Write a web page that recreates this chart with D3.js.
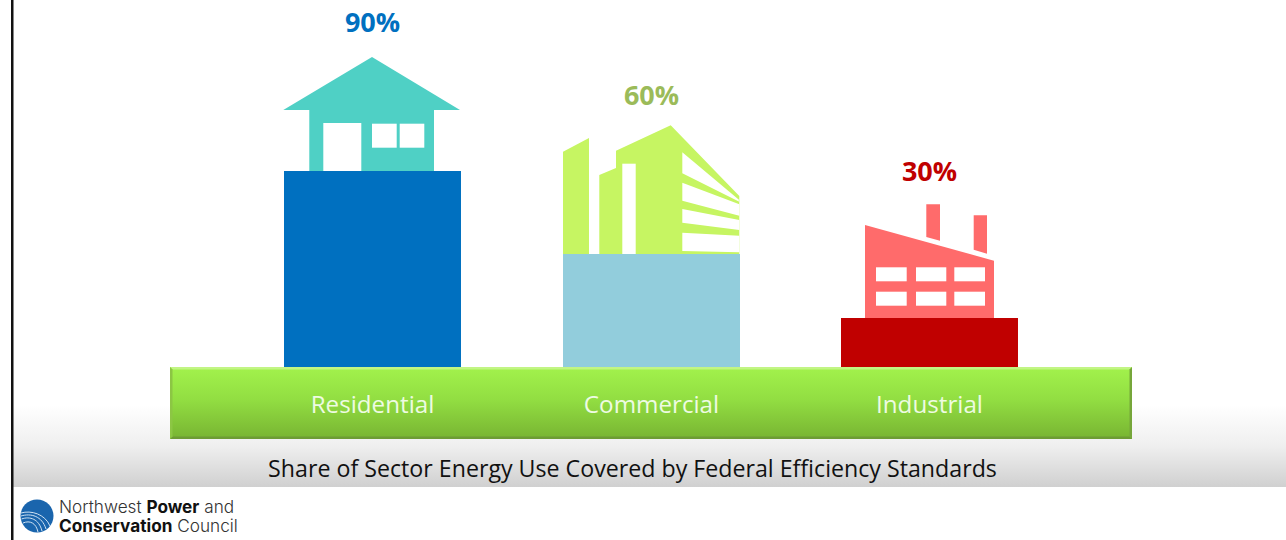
<!DOCTYPE html>
<html>
<head>
<meta charset="utf-8">
<script src="https://cdn.jsdelivr.net/npm/d3@7"></script>
<style>
html, body { margin: 0; padding: 0; background: #fff; overflow: hidden; }
text { font-family: "Open Sans", sans-serif; }
</style>
</head>
<body>
<div id="chart"></div>
<script>
const categories = ['Residential', 'Commercial', 'Industrial'];
const shares = [90, 60, 30];
const barColors = ['#0070c0', '#92cddc', '#c00000'];
const labelColors = ['#0070c0', '#9bbb59', '#c00000'];
const iconColors = ['#4fd0c5', '#c6f562', '#ff6b6b'];
const chartTitle = 'Share of Sector Energy Use Covered by Federal Efficiency Standards';

// bars in the source are drawn by hand, not to scale, so the scale has to bend
const y = d3.scaleLinear().domain([0, 30, 60, 90]).range([367, 318, 254, 171]);
const band_x = d3.scaleBand().domain(categories).range([284, 1018]).paddingInner(0.3645).paddingOuter(0);
const x = d => Math.round(band_x(d));

const svg = d3.select('#chart').append('svg')
    .attr('width', 1286)
    .attr('height', 540)
    .style('display', 'block');

const defs = svg.append('defs');

const bg = defs.append('linearGradient').attr('id', 'bg').attr('x1', 0).attr('x2', 0).attr('y1', 0).attr('y2', 1);
bg.append('stop').attr('offset', 0).attr('stop-color', '#ffffff');
bg.append('stop').attr('offset', 0.5).attr('stop-color', '#efefef');
bg.append('stop').attr('offset', 1).attr('stop-color', '#d0d0d0');

const band = defs.append('linearGradient').attr('id', 'band').attr('x1', 0).attr('x2', 0).attr('y1', 0).attr('y2', 1);
band.append('stop').attr('offset', 0).attr('stop-color', '#a2f24c');
band.append('stop').attr('offset', 0.45).attr('stop-color', '#92de42');
band.append('stop').attr('offset', 1).attr('stop-color', '#78b432');

// grey fade behind the lower part of the slide
svg.append('rect').attr('x', 13).attr('y', 405).attr('width', 1273).attr('height', 82).attr('fill', 'url(#bg)');
svg.append('rect').attr('x', 11).attr('y', 0).attr('width', 2.5).attr('height', 540).attr('fill', '#111');

// icons, one group each, shape coordinates are relative to the bar's top left
const icons = [
    function (g) {
        g.append('path').attr('d', 'M-0.7,-61 L88,-114 L176,-61 L150,-61 L150,0 L25.3,0 L25.3,-61 Z').attr('fill', iconColors[0]);
        [[39.3, -48, 38, 48], [88, -47.3, 24.7, 24], [115.7, -47.3, 24.6, 24]].forEach(r => {
            g.append('rect').attr('x', r[0]).attr('y', r[1]).attr('width', r[2]).attr('height', r[3]).attr('fill', '#fff');
        });
    },
    function (g) {
        g.append('path').attr('d', 'M0,-102.3 L26,-116 L26,0 L0,0 Z').attr('fill', iconColors[1]);
        g.append('path').attr('d', 'M36.3,-79 L53,-86 L53,-103.3 L107.7,-128.7 L176.3,-58 L176.3,0 L36.3,0 Z').attr('fill', iconColors[1]);
        g.append('rect').attr('x', 59.3).attr('y', -90.3).attr('width', 13.4).attr('height', 90.3).attr('fill', '#fff');
        ['M119.3,-101.7 L175.3,-54.7 L176.3,-52.3 L119.3,-80.7 Z',
         'M119.3,-71.3 L176.3,-49.7 L176.3,-38.3 L119.3,-53.3 Z',
         'M119.3,-45 L176.3,-34 L176.3,-24 L119.3,-31.3 Z',
         'M119.3,-21.3 L176.3,-18.3 L176.3,-1.7 L119.3,-3 Z'].forEach(d => {
            g.append('path').attr('d', d).attr('fill', '#fff');
        });
    },
    function (g) {
        g.append('path').attr('d', 'M24,-93 L153,-57.3 L153,0 L24,0 Z').attr('fill', iconColors[2]);
        g.append('path').attr('d', 'M85.3,-113.7 L99,-113.7 L99,-77.3 L85.3,-81 Z').attr('fill', iconColors[2]);
        g.append('path').attr('d', 'M132.7,-102.7 L146,-102.7 L146,-64.3 L132.7,-68.3 Z').attr('fill', iconColors[2]);
        [-50.7, -26.3].forEach(ry => {
            [[35, 30.7], [75, 30.3], [113.3, 30.7]].forEach(c => {
                g.append('rect').attr('x', c[0]).attr('y', ry).attr('width', c[1]).attr('height', 14).attr('fill', '#fff');
            });
        });
    }
];

categories.forEach((c, i) => {
    const g = svg.append('g').attr('transform', `translate(${x(c)},${y(shares[i])})`);
    icons[i](g);
});

svg.selectAll('rect.bar')
    .data(categories)
    .join('rect')
    .attr('class', 'bar')
    .attr('x', d => x(d))
    .attr('y', (d, i) => y(shares[i]))
    .attr('width', band_x.bandwidth())
    .attr('height', (d, i) => y(0) - y(shares[i]))
    .attr('fill', (d, i) => barColors[i]);

const labelY = [32, 105, 181];
svg.selectAll('text.share')
    .data(shares)
    .join('text')
    .attr('class', 'share')
    .attr('x', (d, i) => x(categories[i]) + band_x.bandwidth() / 2)
    .attr('y', (d, i) => labelY[i])
    .attr('text-anchor', 'middle')
    .attr('font-size', 27)
    .attr('font-weight', 700)
    .attr('fill', (d, i) => labelColors[i])
    .text(d => d + '%');

// green ground strip with bevel
svg.append('rect').attr('x', 170).attr('y', 367).attr('width', 962).attr('height', 72).attr('fill', 'url(#band)');
svg.append('path').attr('d', 'M170,367 H1132 L1129.5,369.5 H172.5 Z').attr('fill', '#c2f584');
svg.append('path').attr('d', 'M170,439 H1132 L1129.5,436.5 H172.5 Z').attr('fill', '#6d9c34');
svg.append('path').attr('d', 'M170,367 V439 L172.5,436.5 V369.5 Z').attr('fill', '#8cc644');
svg.append('path').attr('d', 'M1132,367 V439 L1129.5,436.5 V369.5 Z').attr('fill', '#76a63a');

svg.selectAll('text.cat')
    .data(categories)
    .join('text')
    .attr('class', 'cat')
    .attr('x', d => x(d) + band_x.bandwidth() / 2)
    .attr('y', 413)
    .attr('text-anchor', 'middle')
    .attr('font-size', 24.2)
    .attr('fill', '#eefbe2')
    .text(d => d);

svg.append('text')
    .attr('x', 632.5)
    .attr('y', 477)
    .attr('text-anchor', 'middle')
    .attr('font-size', 23.2)
    .attr('fill', '#111')
    .text(chartTitle);

// council logo
const logo = svg.append('g').attr('transform', 'translate(37,516)');
logo.append('circle').attr('r', 16.5).attr('fill', '#1a65ad');
['M-16,-3 C-6,-6 8,-2 13,10', 'M-16,0 C-6,-3 5,0 9,13', 'M-15.5,3 C-7,0 2,3 5,15', 'M-14,7 C-7,4 -1,7 1,16'].forEach(d => {
    logo.append('path').attr('d', d).attr('fill', 'none').attr('stroke', '#cfe2f3').attr('stroke-width', 1);
});

const logoTop = svg.append('text').attr('x', 59).attr('y', 512.5).attr('font-size', 17.2).attr('font-weight', 300).attr('fill', '#333').style('font-family', 'Inter');
logoTop.append('tspan').text('Northwest ');
logoTop.append('tspan').attr('font-weight', 700).attr('fill', '#111').text('Power');
logoTop.append('tspan').text(' and');
const logoBottom = svg.append('text').attr('x', 59).attr('y', 532).attr('font-size', 17.2).attr('font-weight', 300).attr('fill', '#333').style('font-family', 'Inter');
logoBottom.append('tspan').attr('font-weight', 700).attr('fill', '#111').text('Conservation');
logoBottom.append('tspan').text(' Council');
</script>
</body>
</html>
